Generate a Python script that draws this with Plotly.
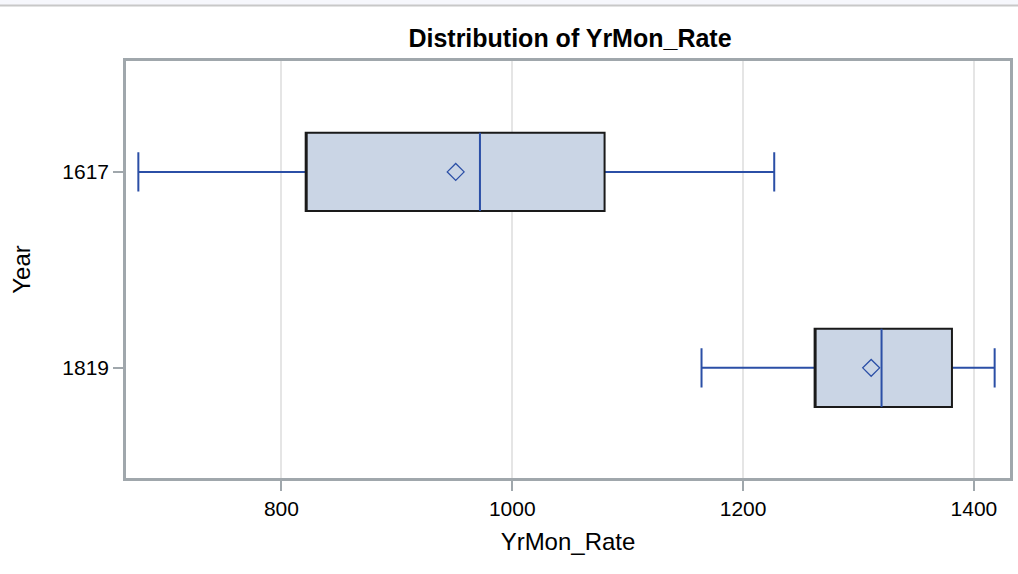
import plotly.graph_objects as go

years = ["1617", "1819"]
low = [676, 1164]
q1 = [821, 1262]
median = [972, 1320]
q3 = [1080, 1381]
high = [1227, 1418]
mean = [951, 1311]
x_ticks = [800, 1000, 1200, 1400]

blue = "#2B4FA6"
fill = "#CAD5E5"
frame = "#A0A7AC"

fig = go.Figure()
# whiskers (blue), degenerate box at median
fig.add_trace(go.Box(y=years, q1=median, median=median, q3=median,
                     lowerfence=low, upperfence=high, orientation="h",
                     line=dict(color=blue, width=2), fillcolor="rgba(0,0,0,0)",
                     whiskerwidth=0.5, width=0.4, showlegend=False, hoverinfo="skip"))
# box body (black outline)
fig.add_trace(go.Box(y=years, q1=q1, median=q1, q3=q3,
                     lowerfence=q1, upperfence=q3, orientation="h",
                     line=dict(color="#1a1a1a", width=2), fillcolor=fill,
                     whiskerwidth=0, width=0.4, showlegend=False))
# median line (blue)
fig.add_trace(go.Box(y=years, q1=median, median=median, q3=median,
                     lowerfence=median, upperfence=median, orientation="h",
                     line=dict(color=blue, width=2), fillcolor="rgba(0,0,0,0)",
                     whiskerwidth=0, width=0.4, showlegend=False, hoverinfo="skip"))
# mean marker
fig.add_trace(go.Scatter(x=mean, y=years, mode="markers",
                         marker=dict(symbol="diamond-open", size=13, color=blue,
                                     line=dict(width=1.3)),
                         showlegend=False))

fig.update_layout(
    width=1018, height=574,
    margin=dict(l=126, r=5, t=61, b=96),
    paper_bgcolor="white", plot_bgcolor="white",
    boxmode="overlay",
    font=dict(family="Liberation Sans, Arial, sans-serif", color="#000"),
    title=dict(text="<b>Distribution of YrMon_Rate</b>", x=570 / 1018, xanchor="center",
               y=1 - 38 / 574, yanchor="middle", font=dict(size=25, color="#000")),
    xaxis=dict(range=[665.3, 1431.3], tickvals=x_ticks,
               showgrid=True, gridcolor="#E5E5E5", gridwidth=2,
               ticks="outside", ticklen=10, tickcolor=frame, tickwidth=2,
               tickfont=dict(size=21), zeroline=False,
               showline=True, linecolor=frame, linewidth=2.5, mirror=True,
               title=dict(text="YrMon_Rate", font=dict(size=24), standoff=15)),
    yaxis=dict(type="category", range=[1.562, -0.566], categoryorder="array",
               categoryarray=years, showgrid=False,
               ticks="outside", ticklen=10, tickcolor=frame, tickwidth=2,
               tickfont=dict(size=21), zeroline=False,
               showline=True, linecolor=frame, linewidth=2.5, mirror=True,
               title=dict(text="Year", font=dict(size=24), standoff=25)),
    shapes=[
        dict(type="rect", xref="paper", yref="paper", x0=-0.2, x1=1.02,
             y0=1 + (61 - 5) / 417, y1=1 + 61 / 417 + 0.02,
             fillcolor="#F6F7FC", line=dict(width=0), layer="above"),
        dict(type="line", xref="paper", yref="paper", x0=-0.2, x1=1.02,
             y0=1 + (61 - 5.5) / 417, y1=1 + (61 - 5.5) / 417,
             line=dict(color="#C8C8C8", width=2), layer="above"),
    ],
)

fig.write_html("out.html", config={"displayModeBar": False},
               post_script="document.body.style.margin='0';document.body.style.overflow='hidden';")
